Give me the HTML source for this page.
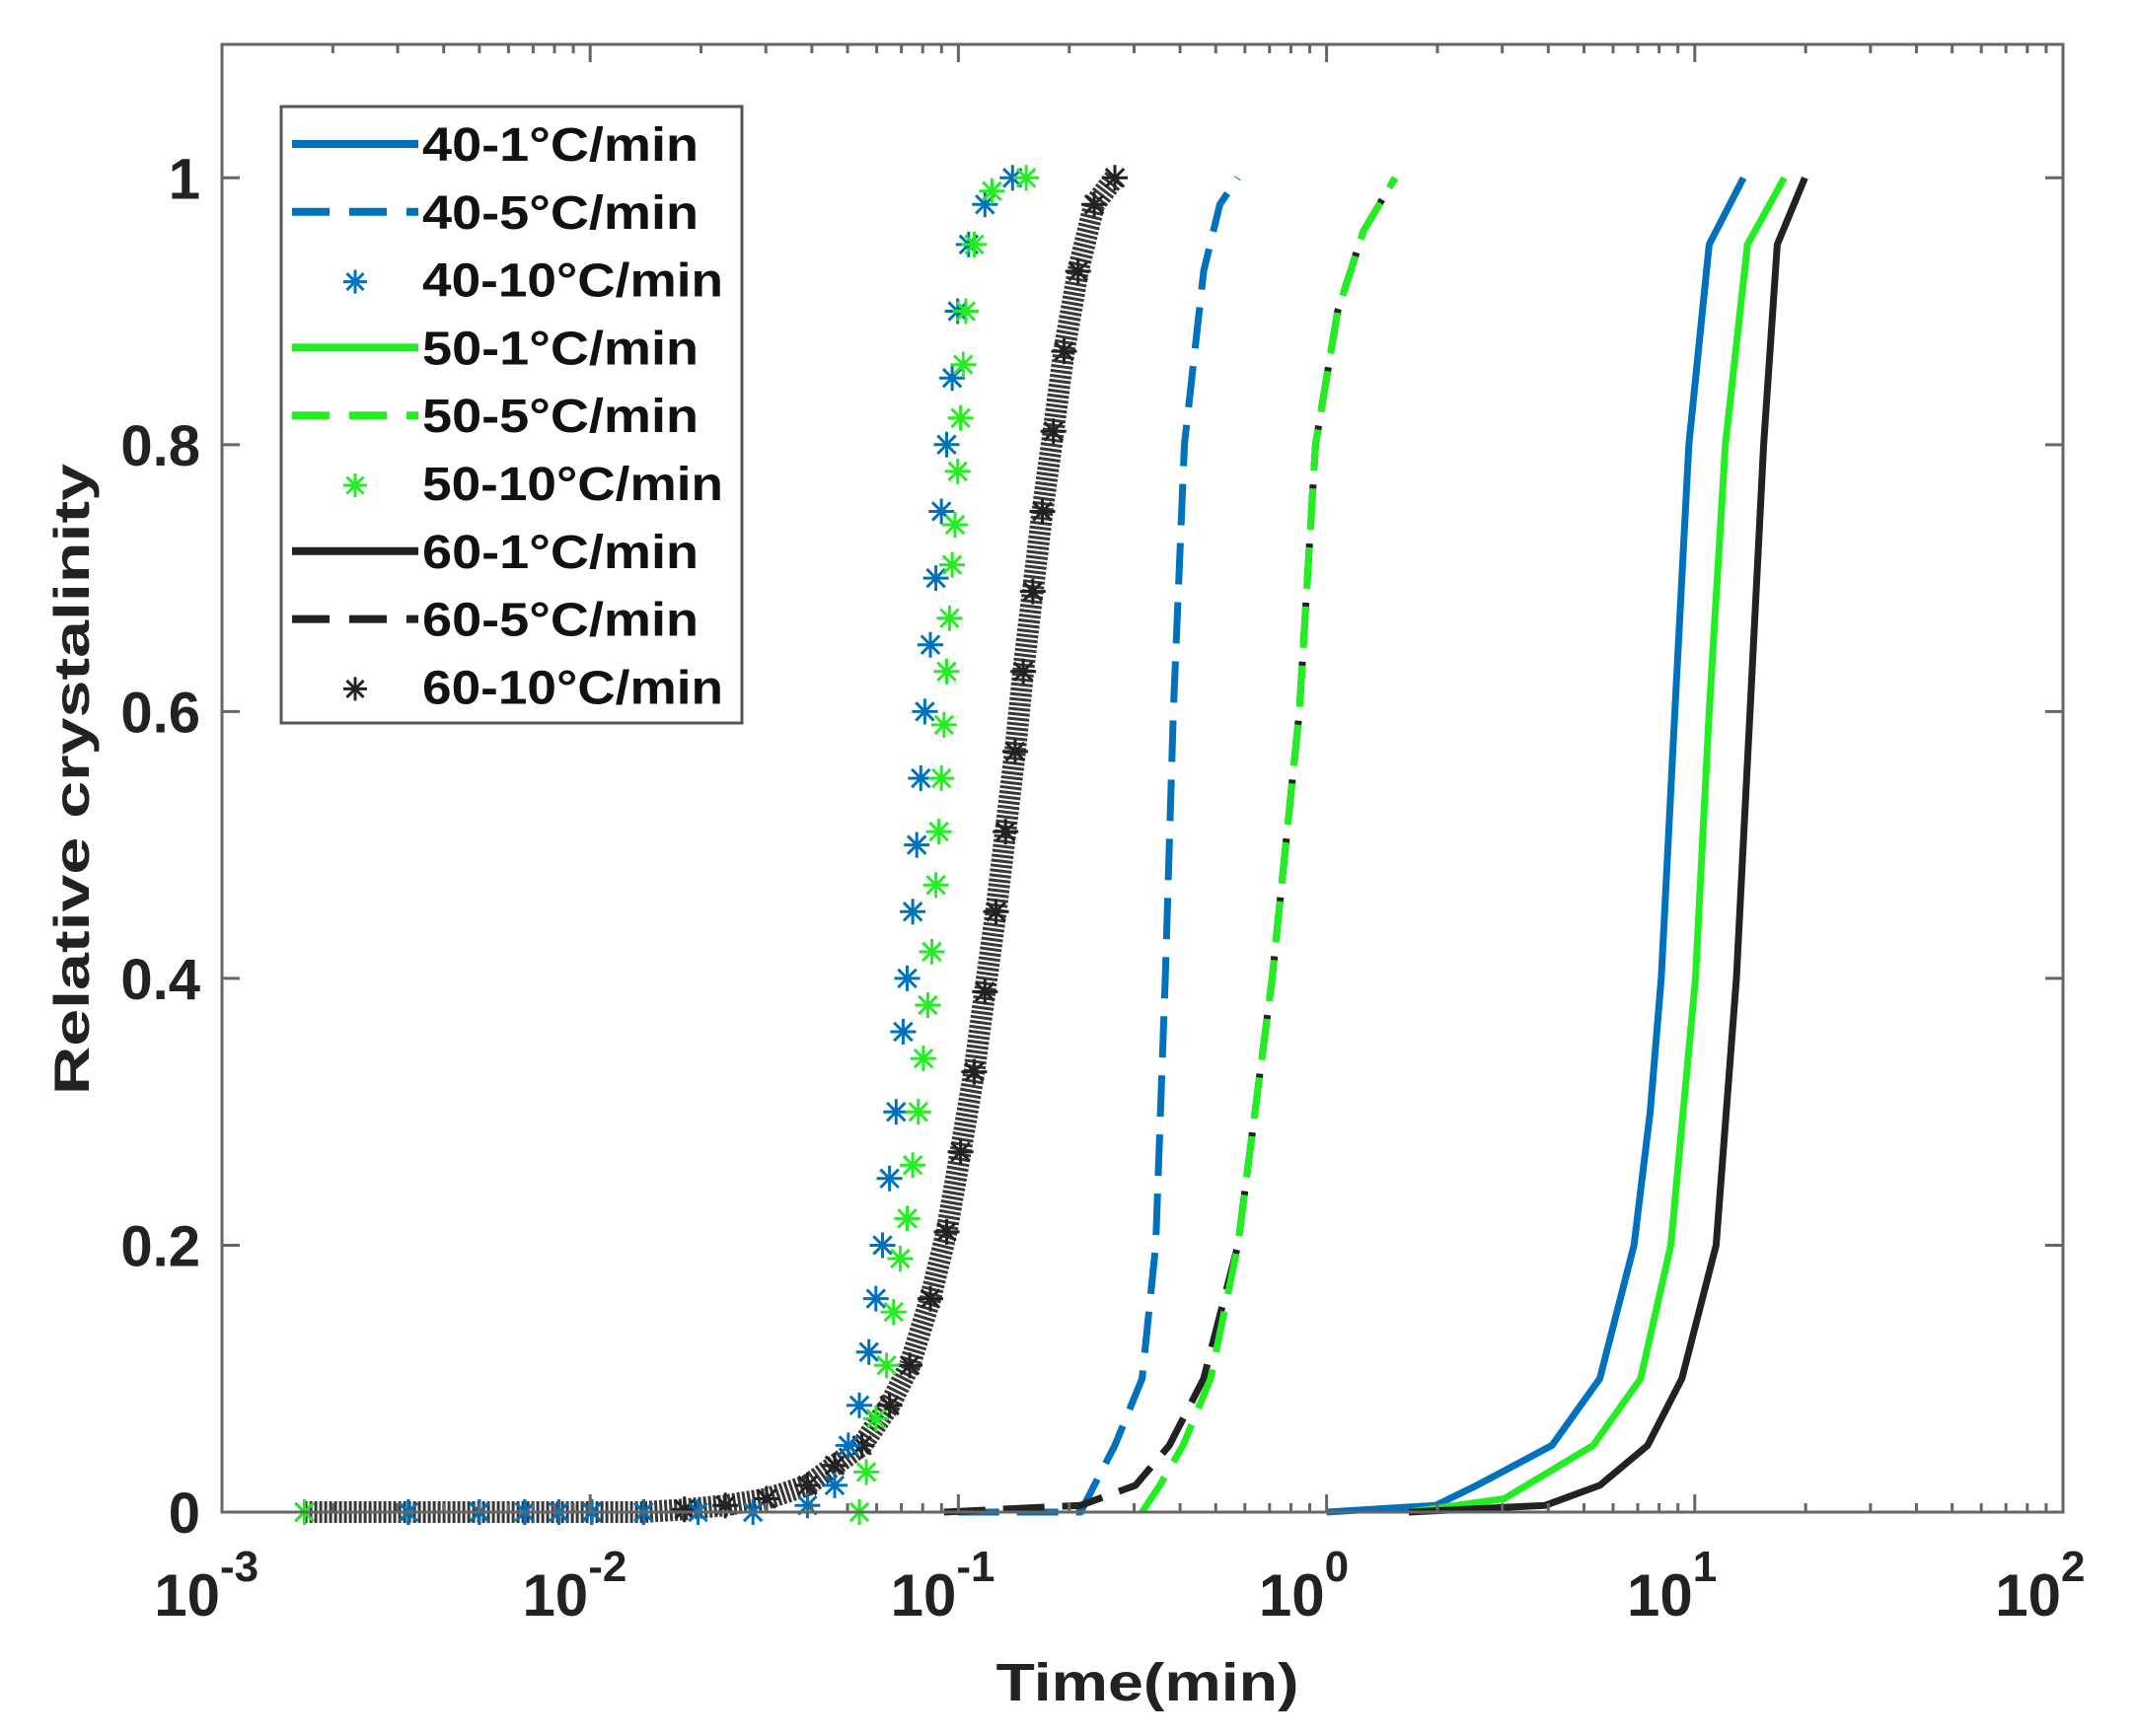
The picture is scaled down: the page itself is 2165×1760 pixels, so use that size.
<!DOCTYPE html>
<html><head><meta charset="utf-8"><style>
html,body{margin:0;padding:0;background:#fff;}
svg{display:block;font-family:"Liberation Sans",Arial,sans-serif;font-weight:bold;}
</style></head><body>
<svg id="chart" width="2165" height="1760" viewBox="0 0 2165 1760" xmlns="http://www.w3.org/2000/svg">
<rect x="0" y="0" width="2165" height="1760" fill="#fff"/>
<g id="marks"></g>
<g id="axes"></g>
<text transform="translate(90,790) rotate(-90)" text-anchor="middle" font-size="50" fill="#222" textLength="640" lengthAdjust="spacingAndGlyphs">Relative crystalinity</text>
<text x="1163" y="1724" text-anchor="middle" font-size="54" fill="#222" textLength="307" lengthAdjust="spacingAndGlyphs">Time(min)</text>
<g id="legend"></g>
</svg>
<script>
// ---- data (log10 of time in minutes, relative crystallinity) ----
const xTickExps = [-3, -2, -1, 0, 1, 2];
const yTicks = [0, 0.2, 0.4, 0.6, 0.8, 1];
const yTickLabels = ["0", "0.2", "0.4", "0.6", "0.8", "1"];
const seriesNames = ["40-1°C/min","40-5°C/min","40-10°C/min","50-1°C/min","50-5°C/min","50-10°C/min","60-1°C/min","60-5°C/min","60-10°C/min"];

const t40_1 = [0,0.297,0.408,0.612,0.742,0.835,0.879,0.909,0.946,0.984,1.039,1.132];
const x40_1 = [0,0.005,0.02,0.05,0.1,0.2,0.3,0.4,0.6,0.8,0.95,1];
const t50_1 = [0.223,0.482,0.724,0.853,0.935,1.002,1.039,1.083,1.143,1.243];
const x50_1 = [0,0.01,0.05,0.1,0.2,0.4,0.6,0.8,0.95,1];
const t60_1 = [0.223,0.594,0.742,0.872,0.965,1.058,1.113,1.150,1.187,1.224,1.299];
const x60_1 = [0,0.005,0.02,0.05,0.1,0.2,0.4,0.6,0.8,0.95,1];

const t40_5 = [-1.002,-0.668,-0.631,-0.575,-0.501,-0.464,-0.438,-0.416,-0.386,-0.334,-0.290,-0.241];
const x40_5 = [0,0,0.02,0.05,0.1,0.2,0.4,0.6,0.8,0.93,0.98,1];
const t50_5 = [-0.501,-0.453,-0.390,-0.315,-0.241,-0.148,-0.074,-0.030,0.030,0.100,0.186];
const x50_5 = [0,0.02,0.05,0.1,0.2,0.4,0.6,0.8,0.9,0.96,1];
const t60_5 = [-1.039,-0.668,-0.519,-0.427,-0.334,-0.241,-0.148,-0.074,-0.030,0.030,0.100,0.186];
const x60_5 = [0,0.005,0.02,0.05,0.1,0.2,0.4,0.6,0.8,0.9,0.96,1];

const t40_10 = [-2.494,-2.301,-2.178,-2.085,-1.996,-1.855,-1.707,-1.558,-1.410,-1.336,-1.299,-1.269,-1.243,-1.224,-1.206,-1.187,-1.169,-1.150,-1.139,-1.124,-1.113,-1.102,-1.091,-1.076,-1.061,-1.046,-1.032,-1.017,-1.002,-0.972,-0.928,-0.853];
const x40_10 = [0,0,0,0,0,0,0,0,0.005,0.02,0.05,0.08,0.12,0.16,0.2,0.25,0.3,0.36,0.4,0.45,0.5,0.55,0.6,0.65,0.7,0.75,0.8,0.85,0.9,0.95,0.98,1];
const t50_10 = [-2.776,-1.269,-1.250,-1.224,-1.195,-1.176,-1.158,-1.139,-1.124,-1.109,-1.095,-1.083,-1.072,-1.061,-1.053,-1.046,-1.039,-1.032,-1.024,-1.017,-1.009,-1.002,-0.994,-0.987,-0.980,-0.957,-0.909,-0.816];
const x50_10 = [0,0,0.03,0.07,0.11,0.15,0.19,0.22,0.26,0.3,0.34,0.38,0.42,0.47,0.51,0.55,0.59,0.63,0.67,0.71,0.74,0.78,0.82,0.86,0.9,0.95,0.99,1];
const t60_10 = [-2.776,-2.494,-2.301,-2.178,-2.085,-1.996,-1.855,-1.744,-1.633,-1.521,-1.410,-1.336,-1.262,-1.187,-1.132,-1.076,-1.032,-0.994,-0.957,-0.928,-0.898,-0.872,-0.846,-0.824,-0.798,-0.772,-0.742,-0.713,-0.675,-0.631,-0.575];
const x60_10 = [0,0,0,0,0,0,0,0.002,0.005,0.01,0.02,0.035,0.05,0.08,0.11,0.16,0.21,0.27,0.33,0.39,0.45,0.51,0.57,0.63,0.69,0.75,0.81,0.87,0.93,0.98,1];

// ---- layout ----
const L=225,R=2091,T=45,B=1533, XMIN=-3, XMAX=2, YMAX=1.1;
const BLUE="#0072BD", GREEN="#22ee22", BLACK="#222";
function sx(lt){return L+(lt-XMIN)/(XMAX-XMIN)*(R-L);}
function sy(v){return B-v/YMAX*(B-T);}
const NS="http://www.w3.org/2000/svg";
function mk(tag,attrs,parent){const e=document.createElementNS(NS,tag);for(const k in attrs)e.setAttribute(k,attrs[k]);parent.appendChild(e);return e;}
const marks=document.getElementById('marks'), axes=document.getElementById('axes'), legend=document.getElementById('legend');

function pathD(ts,xs){return ts.map((t,i)=>(i?'L':'M')+sx(t).toFixed(1)+' '+sy(xs[i]).toFixed(1)).join(' ');}
function drawLine(ts,xs,color,dash,name){
  const p=mk('path',{d:pathD(ts,xs),fill:'none',stroke:color,'stroke-width':7,'stroke-linejoin':'round'},marks);
  if(dash)p.setAttribute('stroke-dasharray','42 18');
  
  
}
function star(cx,cy,r,color,parent){
  let d='';
  for(let k=0;k<4;k++){const a=k*Math.PI/4;const dx=r*Math.cos(a),dy=r*Math.sin(a);d+=`M${(cx-dx).toFixed(1)} ${(cy-dy).toFixed(1)}L${(cx+dx).toFixed(1)} ${(cy+dy).toFixed(1)}`;}
  return mk('path',{d:d,stroke:color,'stroke-width':3,fill:'none'},parent);
}
function drawStars(ts,xs,color,name,under){
  const g=mk('g',{},marks);
  
  
  if(under){
    mk('path',{d:pathD(ts,xs),fill:'none',stroke:color,'stroke-width':under,'stroke-dasharray':'3 2','stroke-opacity':0.9},g);
  }
  ts.forEach((t,i)=>{
    const s=star(sx(t),sy(xs[i]),13,color,g);
    
    
  });
}
drawStars(t60_10,x60_10,BLACK,'series-60-10',22);
drawStars(t40_10,x40_10,BLUE,'series-40-10',0);
drawStars(t50_10,x50_10,GREEN,'series-50-10',0);
drawLine(t40_5,x40_5,BLUE,true,'series-40-5');
drawLine(t60_5,x60_5,BLACK,true,'series-60-5');
drawLine(t50_5,x50_5,GREEN,true,'series-50-5');
drawLine(t40_1,x40_1,BLUE,false,'series-40-1');
drawLine(t50_1,x50_1,GREEN,false,'series-50-1');
drawLine(t60_1,x60_1,BLACK,false,'series-60-1');

// ---- axes ----
const frame=mk('rect',{x:L,y:T,width:R-L,height:B-T,fill:'none',stroke:'#666','stroke-width':3},axes);


yTicks.forEach((v,i)=>{
  const y=sy(v);
  mk('line',{x1:L,y1:y,x2:L+18,y2:y,stroke:'#666','stroke-width':3},axes);
  mk('line',{x1:R,y1:y,x2:R-18,y2:y,stroke:'#666','stroke-width':3},axes);
  const tx=mk('text',{x:L-22,y:y+21,'text-anchor':'end','font-size':58,fill:'#222'},axes);
  tx.textContent=yTickLabels[i];
  
  
});
xTickExps.forEach((e,i)=>{
  const x=sx(e);
  mk('line',{x1:x,y1:B,x2:x,y2:B-18,stroke:'#666','stroke-width':3},axes);
  mk('line',{x1:x,y1:T,x2:x,y2:T+18,stroke:'#666','stroke-width':3},axes);
  if(i<xTickExps.length-1){
    for(let m=2;m<10;m++){const xm=sx(e+Math.log10(m));
      mk('line',{x1:xm,y1:B,x2:xm,y2:B-9,stroke:'#666','stroke-width':3},axes);
      mk('line',{x1:xm,y1:T,x2:xm,y2:T+9,stroke:'#666','stroke-width':3},axes);}
  }
  const tx=mk('text',{x:x-2,y:1638,'text-anchor':'end','font-size':60,fill:'#222'},axes);
  tx.textContent='10';
  
  
  const ex=mk('text',{x:x-2,y:1603,'text-anchor':'start','font-size':44,fill:'#222'},axes);
  ex.textContent=String(e);
  
  
});

// ---- legend ----
mk('rect',{x:285,y:108,width:467,height:625,fill:'#fff',stroke:'#555','stroke-width':3},legend);
const legColors=[BLUE,BLUE,BLUE,GREEN,GREEN,GREEN,BLACK,BLACK,BLACK];
seriesNames.forEach((n,i)=>{
  const y=146+i*68.8, kind=i%3;
  const g=mk('g',{},legend);
  
  
  if(kind===2){star(360,y+2,12,legColors[i],g);}
  else{const l=mk('line',{x1:296,y1:y,x2:424,y2:y,stroke:legColors[i],'stroke-width':8},g);
    if(kind===1)l.setAttribute('stroke-dasharray','38 20');}
  const tx=mk('text',{x:428,y:y+17,'font-size':48,fill:'#111'},g);
  tx.setAttribute('textLength', kind===2 ? 305 : 280);
  tx.setAttribute('lengthAdjust','spacingAndGlyphs');
  tx.textContent=n;
});
</script>
</body></html>
